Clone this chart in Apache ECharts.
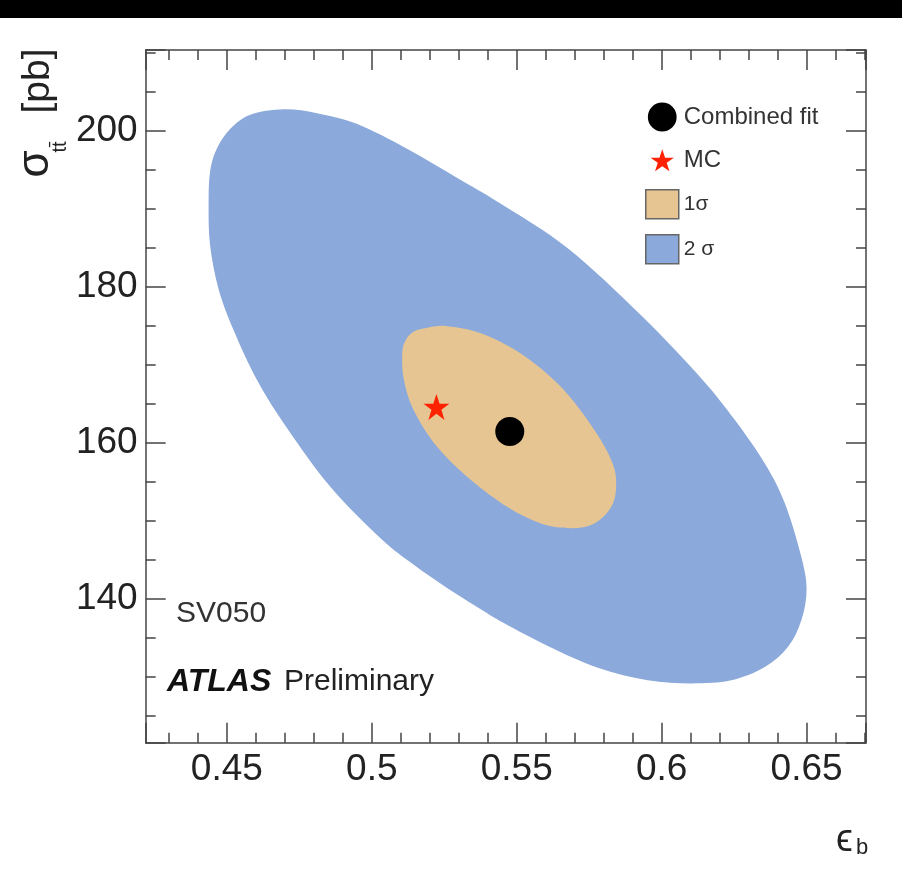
<!DOCTYPE html>
<html><head><meta charset="utf-8">
<script src="https://cdn.jsdelivr.net/npm/echarts@6/dist/echarts.min.js"></script>
<style>html,body{margin:0;padding:0;background:#fff}#c{width:902px;height:871px}</style>
</head><body><div id="c"></div>
<script>
// ---- data ----
const xTickLabels = ['0.45', '0.5', '0.55', '0.6', '0.65'];
const yTickLabels = ['140', '160', '180', '200'];
const xRange = [0.422, 0.6705];
const yRange = [121.6, 210.4];
const combinedFit = [[0.5476, 161.5]];
const mcPoint = [[0.5223, 164.65]];
const sigma1Contour = [
  [0.5105, 171.5], [0.5117, 173.2], [0.5145, 174.3], [0.5192, 174.8], [0.5261, 175.0],
  [0.5376, 174.1], [0.5514, 171.5], [0.5653, 167.2], [0.5768, 161.7], [0.5831, 157.4],
  [0.5843, 154.4], [0.5826, 151.8], [0.5768, 149.7], [0.5687, 149.1], [0.5583, 149.7],
  [0.5468, 151.8], [0.5341, 155.3], [0.5226, 159.5], [0.5145, 164.2], [0.5111, 168.1]
];
const sigma2Contour = [
  [0.4696, 202.8], [0.4811, 202.3], [0.4950, 200.9], [0.5123, 197.7], [0.5295, 194.0],
  [0.5445, 190.7], [0.5676, 185.0], [0.5929, 176.4], [0.6137, 168.3], [0.6252, 163.0],
  [0.6356, 157.4], [0.6425, 152.3], [0.6482, 145.4], [0.6500, 141.2], [0.6482, 137.3],
  [0.6436, 133.9], [0.6356, 131.3], [0.6240, 129.6], [0.6102, 129.2], [0.5952, 129.6],
  [0.5780, 131.2], [0.5607, 134.0], [0.5457, 136.9], [0.5376, 138.7], [0.5261, 141.4],
  [0.5145, 144.4], [0.5030, 147.8], [0.4857, 154.4], [0.4708, 161.9], [0.4604, 168.1],
  [0.4523, 174.5], [0.4471, 179.8], [0.4442, 185.4], [0.4437, 190.5], [0.4442, 194.8],
  [0.4466, 197.8], [0.4512, 200.3], [0.4581, 202.1]
];
const seriesNames = ['Combined fit', 'MC', '1σ', '2 σ'];

// ---- styles ----
const FONT = '"Liberation Sans", Arial, Helvetica, sans-serif';
const AXIS_COLOR = '#444';
const BLUE = '#8ba9da';
const TAN = '#e6c592';
const RED = '#ff2200';
const STAR = 'path://M12,0 L14.9,8.6 L24,8.6 L16.6,13.9 L19.4,22.6 L12,17.3 L4.6,22.6 L7.4,13.9 L0,8.6 L9.1,8.6 Z';
const STAR_LEGEND = 'path://M-3.9,-3.6 M27.9,26.2 M12,0 L14.9,8.6 L24,8.6 L16.6,13.9 L19.4,22.6 L12,17.3 L4.6,22.6 L7.4,13.9 L0,8.6 L9.1,8.6 Z';
const CIRCLE_LEGEND = 'path://M-1.6,-0.1 M27.6,26.1 M13,0 A13,13 0 1 1 12.99,0 Z';

function fmt(list) {
  return function (v) {
    const s = String(+(+v).toFixed(3));
    return list.indexOf(s) >= 0 ? s : '';
  };
}

function axisBase(extra) {
  return Object.assign({
    type: 'value',
    splitLine: { show: false },
    axisLine: { show: true, onZero: false, lineStyle: { color: AXIS_COLOR, width: 1.5 } },
    axisTick: { show: true, inside: true, length: 20, lineStyle: { color: AXIS_COLOR, width: 1.5 } },
    minorSplitLine: { show: false }
  }, extra);
}

// closed smooth outline (Catmull-Rom -> cubic Bezier) through the read contour points
function closedSmoothPath(P) {
  const n = P.length;
  const f = function (p) { return p[0].toFixed(2) + ',' + p[1].toFixed(2); };
  let d = 'M' + f(P[0]);
  for (let i = 0; i < n; i++) {
    const p0 = P[(i - 1 + n) % n], p1 = P[i], p2 = P[(i + 1) % n], p3 = P[(i + 2) % n];
    const c1 = [p1[0] + (p2[0] - p0[0]) / 6, p1[1] + (p2[1] - p0[1]) / 6];
    const c2 = [p2[0] - (p3[0] - p1[0]) / 6, p2[1] - (p3[1] - p1[1]) / 6];
    d += 'C' + f(c1) + ' ' + f(c2) + ' ' + f(p2);
  }
  return d + 'Z';
}

function contour(name, pts, color, z) {
  return {
    type: 'custom',
    name: name,
    coordinateSystem: 'cartesian2d',
    xAxisIndex: 0, yAxisIndex: 0,
    data: pts,
    encode: { x: 0, y: 1 },
    itemStyle: { color: color },
    clip: true,
    z: z,
    silent: true,
    renderItem: function (params, api) {
      if (params.dataIndex !== 0) return null;
      const points = pts.map(function (p) { return api.coord(p); });
      return { type: 'path', shape: { pathData: closedSmoothPath(points) }, style: { fill: color } };
    }
  };
}

function rotText(text, x, y, size, extra) {
  return {
    type: 'text', x: x, y: y, rotation: Math.PI / 2, silent: true,
    style: Object.assign({ text: text, font: size + 'px ' + FONT, fill: '#222',
      align: 'center', verticalAlign: 'middle' }, extra || {})
  };
}

const chart = echarts.init(document.getElementById('c'), null, { renderer: 'canvas' });
chart.setOption({
  animation: false,
  backgroundColor: '#fff',
  textStyle: { fontFamily: FONT },
  grid: { left: 145.7, right: 36, top: 50, bottom: 128.3, containLabel: false },
  xAxis: [
    axisBase({
      position: 'bottom', min: xRange[0], max: xRange[1], splitNumber: 5,
      minorTick: { show: true, splitNumber: 5, length: 10, lineStyle: { color: AXIS_COLOR, width: 1.5 } },
      axisLabel: { show: true, showMinLabel: false, showMaxLabel: false, fontSize: 37, color: '#222',
        fontFamily: FONT, margin: 9, formatter: fmt(xTickLabels) }
    }),
    axisBase({
      position: 'top', min: xRange[0], max: xRange[1], splitNumber: 5,
      minorTick: { show: true, splitNumber: 5, length: 10, lineStyle: { color: AXIS_COLOR, width: 1.5 } },
      axisLabel: { show: false }
    })
  ],
  yAxis: [
    axisBase({
      position: 'left', min: yRange[0], max: yRange[1], splitNumber: 4,
      minorTick: { show: true, splitNumber: 4, length: 10, lineStyle: { color: AXIS_COLOR, width: 1.5 } },
      axisLabel: { show: true, showMinLabel: false, showMaxLabel: false, fontSize: 37, color: '#222',
        fontFamily: FONT, margin: 8, formatter: fmt(yTickLabels) }
    }),
    axisBase({
      position: 'right', min: yRange[0], max: yRange[1], splitNumber: 4,
      minorTick: { show: true, splitNumber: 4, length: 10, lineStyle: { color: AXIS_COLOR, width: 1.5 } },
      axisLabel: { show: false }
    })
  ],
  legend: {
    orient: 'vertical', left: 645, top: 102.5, padding: 0,
    itemWidth: 33, itemHeight: 29, itemGap: 14.3,
    selectedMode: false,
    textStyle: { color: '#333', fontFamily: FONT, fontSize: 24 },
    data: [
      { name: seriesNames[0], icon: CIRCLE_LEGEND, itemStyle: { color: '#000', opacity: 1 } },
      { name: seriesNames[1], icon: STAR_LEGEND, itemStyle: { color: RED, opacity: 1 } },
      { name: seriesNames[2], icon: 'rect', itemStyle: { color: TAN, borderColor: '#666', borderWidth: 1.5 }, textStyle: { fontSize: 21 } },
      { name: seriesNames[3], icon: 'rect', itemStyle: { color: BLUE, borderColor: '#666', borderWidth: 1.5 }, textStyle: { fontSize: 21 } }
    ]
  },
  series: [
    contour(seriesNames[3], sigma2Contour, BLUE, 1),
    contour(seriesNames[2], sigma1Contour, TAN, 2),
    {
      type: 'scatter', name: seriesNames[0], data: combinedFit, symbol: 'circle', symbolSize: 29,
      itemStyle: { color: '#000', opacity: 1 }, z: 4, silent: true
    },
    {
      type: 'scatter', name: seriesNames[1], data: mcPoint, symbol: STAR, symbolSize: 26,
      itemStyle: { color: RED, opacity: 1 }, z: 4, silent: true
    }
  ],
  graphic: [
    { type: 'rect', left: 0, top: 0, shape: { width: 902, height: 18 }, style: { fill: '#000' }, silent: true },
    { type: 'text', x: 176, y: 614, silent: true,
      style: { text: 'SV050', font: '30px ' + FONT, fill: '#333', verticalAlign: 'middle', align: 'left' } },
    { type: 'text', x: 167, y: 682, silent: true,
      style: { text: 'ATLAS', font: 'italic bold 32px ' + FONT, fill: '#111', verticalAlign: 'middle', align: 'left' } },
    { type: 'text', x: 284, y: 682, silent: true,
      style: { text: 'Preliminary', font: '30px ' + FONT, fill: '#222', verticalAlign: 'middle', align: 'left' } },
    // y-axis title: sigma_{t tbar} [pb]
    rotText('σ', 36, 164, 44),
    rotText('tt\u0304', 60, 147, 20),
    rotText('[pb]', 38, 81, 39),
    // x-axis title: epsilon_b
    { type: 'text', x: 836, y: 841, silent: true,
      style: { text: 'ϵ', font: '38px ' + FONT, fill: '#222', verticalAlign: 'middle', align: 'left' } },
    { type: 'text', x: 856, y: 848, silent: true,
      style: { text: 'b', font: '22px ' + FONT, fill: '#222', verticalAlign: 'middle', align: 'left' } }
  ]
});
</script>
</body></html>
